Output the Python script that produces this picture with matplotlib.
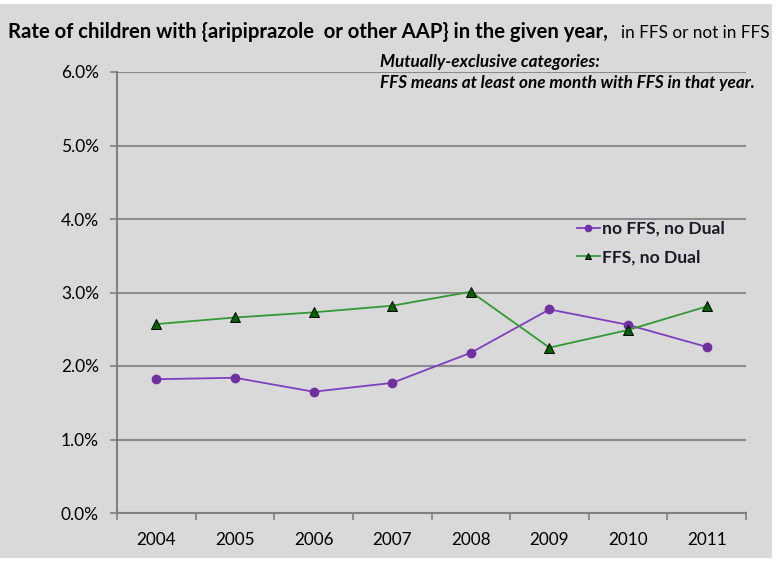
import numpy as np
import matplotlib.pyplot as plt
from matplotlib.patches import Rectangle
from matplotlib.ticker import FuncFormatter

# data (percent)
years = ['2004', '2005', '2006', '2007', '2008', '2009', '2010', '2011']
no_ffs = [1.82, 1.84, 1.65, 1.77, 2.18, 2.77, 2.56, 2.26]
ffs = [2.57, 2.66, 2.73, 2.82, 3.01, 2.25, 2.49, 2.81]
y_ticks = [0, 1, 2, 3, 4, 5, 6]

plt.rcParams['font.family'] = ['Lato', 'DejaVu Sans']

fig = plt.figure(figsize=(7.76, 5.62), dpi=100, facecolor='white')
# gray chart area with thin white border top/right
fig.patches.append(Rectangle((0, 4 / 562), 772 / 776, 1 - 8 / 562, transform=fig.transFigure,
                             facecolor='#d9d9d9', edgecolor='none', zorder=-10))

ax = fig.add_axes([117 / 776, 1 - 513 / 562, 629 / 776, 441 / 562])
ax.set_facecolor('#d9d9d9')

x = np.arange(len(years))
ax.plot(x, no_ffs, color='#7f3fbf', lw=1.3, marker='o', ms=6, mfc='#7030a0', mec='#7030a0',
        label='no FFS, no Dual', zorder=3)
ax.plot(x, ffs, color='#339933', lw=1.3, marker='^', ms=6.5, mfc='#006400', mec='black', mew=0.7,
        label='FFS, no Dual', zorder=3)

ax.set_xlim(-0.5, len(years) - 0.5)
ax.set_ylim(0, 6)
ax.set_yticks(y_ticks)
ax.yaxis.set_major_formatter(FuncFormatter(lambda v, p: '%.1f%%' % v))
ax.set_xticks(x)
ax.set_xticklabels(years)
ax.set_xticks(np.arange(-0.5, len(years)), minor=True)
ax.tick_params(axis='x', which='major', length=0, pad=14, labelsize=12.3)
ax.tick_params(axis='x', which='minor', length=5, color='#808080', width=1.2, direction='out')
ax.tick_params(axis='y', length=5, color='#808080', width=1.2, direction='out', labelsize=12.5, pad=8)

ax.grid(axis='y', color='#8c8c8c', lw=1.5)
ax.set_axisbelow(True)
for s in ['top', 'right']:
    ax.spines[s].set_visible(False)
for s in ['left', 'bottom']:
    ax.spines[s].set_color('#808080')
    ax.spines[s].set_linewidth(1.5)

leg = ax.legend(loc='upper left', bbox_to_anchor=(577 / 776, 1 - 221 / 562), bbox_transform=fig.transFigure,
                frameon=False, fontsize=12.6, handlelength=1.3, handletextpad=0.1, labelspacing=0.72,
                borderpad=0, borderaxespad=0, markerscale=0.75)
for t in leg.get_texts():
    t.set_fontweight('bold')
    t.set_color('#1a1a2a')

fig.text(8 / 776, 1 - 38 / 562, 'Rate of children with {aripiprazole  or other AAP} in the given year,',
         fontsize=14.6, fontweight='bold', ha='left', va='baseline')
fig.text(621 / 776, 1 - 38 / 562, 'in FFS or not in FFS', fontsize=12.3, ha='left', va='baseline')

fig.text(380 / 776, 1 - 67 / 562, 'Mutually-exclusive categories:', fontsize=12.3,
         fontweight='bold', style='italic', ha='left', va='baseline')
fig.text(380 / 776, 1 - 88 / 562, 'FFS means at least one month with FFS in that year.', fontsize=12.3,
         fontweight='bold', style='italic', ha='left', va='baseline')

fig.savefig('out.png', dpi=100, facecolor='white')
